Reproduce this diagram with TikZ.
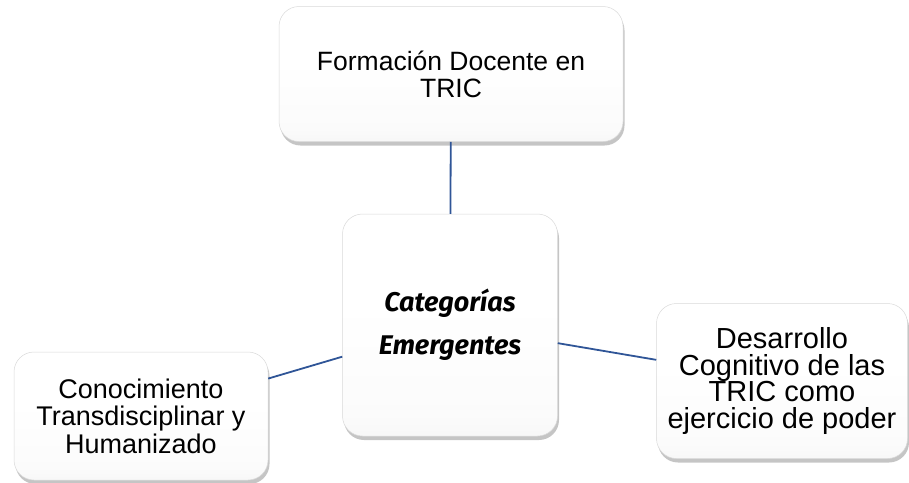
\documentclass[tikz,border=0pt]{standalone}
\usepackage{fontspec}
\setmainfont{Liberation Sans}
\newfontfamily\catfont{Fira Sans}
\usetikzlibrary{positioning,shadows}

\definecolor{linkblue}{RGB}{47,85,151}
\pgfdeclareverticalshading{boxfade}{100bp}{color(0bp)=(gray!20); color(30bp)=(white!97!gray); color(55bp)=(white); color(100bp)=(white)}

\tikzset{
  catbox/.style={draw=gray!30, line width=0.5pt, rounded corners=20pt,
    shading=boxfade,
    drop shadow={shadow xshift=1.5pt, shadow yshift=-4pt, opacity=0.5, fill=gray!90},
    align=center, inner sep=0pt, font=\fontsize{26.5}{27}\selectfont},
  link/.style={draw=linkblue, line width=1.8pt}
}

\begin{document}
\begin{tikzpicture}[x=1pt,y=-1pt]
\useasboundingbox (0,0) rectangle (909,482);
% categorias
\node[catbox, minimum width=344pt, minimum height=135pt] (form) at (451,74) {Formación Docente en\\TRIC};
\node[catbox, minimum width=215pt, minimum height=222pt,
      font=\catfont\bfseries\itshape\fontsize{27}{43}\selectfont] (cat) at (450,325) {Categorías\\Emergentes};
\node[catbox, minimum width=254pt, minimum height=128pt, font=\fontsize{27}{27.5}\selectfont] (con) at (141,416) {Conocimiento\\Transdisciplinar y\\Humanizado};
\node[catbox, minimum width=251pt, minimum height=155pt, font=\fontsize{29}{26.5}\selectfont] (des) at (782,381) {Desarrollo\\Cognitivo de las\\TRIC como\\ejercicio de poder};
% enlaces
\draw[link] (form) -- (cat);
\draw[link] (cat) -- (con);
\draw[link] (cat) -- (des);
\end{tikzpicture}
\end{document}
